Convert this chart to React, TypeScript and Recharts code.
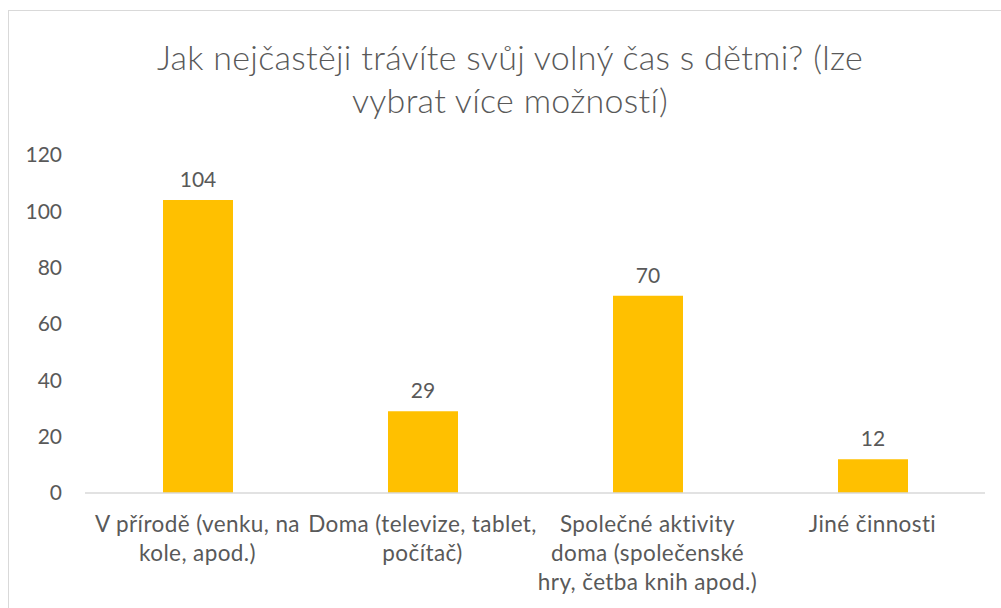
import { BarChart, Bar, XAxis, YAxis, LabelList } from 'recharts';

const categoryLines: string[][] = [
  ['V přírodě (venku, na', 'kole, apod.)'],
  ['Doma (televize, tablet,', 'počítač)'],
  ['Společné aktivity', 'doma (společenské', 'hry, četba knih apod.)'],
  ['Jiné činnosti'],
];
const categories = categoryLines.map(l => l.join(' '));
const counts = [104, 29, 70, 12];
const yTicks = [0, 20, 40, 60, 80, 100, 120];

const TEXT = '#595959';
const FONT = 'Lato, "Open Sans", sans-serif';

const data = categories.map((name, i) => ({ name, count: counts[i] }));

function CategoryTick(props: any) {
  const { x, y, index } = props;
  const lines = categoryLines[index] || [];
  return (
    <text x={x} y={y} textAnchor="middle" fill={TEXT} fontSize={22.5} fontFamily={FONT} letterSpacing={0.4}>
      {lines.map((l, i) => (
        <tspan key={i} x={x} dy={i === 0 ? 37 : 29}>{l}</tspan>
      ))}
    </text>
  );
}

export default function App() {
  return (
    <div style={{ position: 'absolute', left: 0, top: 0, width: 1001, height: 608, background: '#fff', overflow: 'hidden', fontFamily: FONT }}>
      <div style={{ position: 'absolute', left: 8, top: 10, width: 1010, height: 620, border: '1px solid #d9d9d9' }} />
      <div style={{ position: 'absolute', left: 0, top: 35, width: 1020, textAlign: 'center', color: TEXT, fontSize: 34, fontWeight: 300, lineHeight: '43px', letterSpacing: 0.3 }}>
        Jak nejčastěji trávíte svůj volný čas s dětmi? (lze<br />vybrat více možností)
      </div>
      <div style={{ position: 'absolute', left: 0, top: 0 }}>
        <BarChart width={1001} height={608} data={data} margin={{ top: 155, right: 16, bottom: 15, left: 0 }}>
          <XAxis
            dataKey="name"
            interval={0}
            axisLine={{ stroke: '#d9d9d9', strokeWidth: 1.5 }}
            tickLine={false}
            tickSize={0}
            tick={<CategoryTick />}
            height={100}
          />
          <YAxis
            domain={[0, 120]}
            ticks={yTicks}
            width={85}
            axisLine={false}
            tickLine={false}
            tickSize={0}
            tickMargin={23}
            tick={{ fill: TEXT, fontSize: 21, fontFamily: FONT }}
          />
          <Bar dataKey="count" fill="#ffc000" barSize={70} isAnimationActive={false}>
            <LabelList dataKey="count" position="top" offset={13} fill={TEXT} fontSize={21} fontFamily={FONT} />
          </Bar>
        </BarChart>
      </div>
    </div>
  );
}
